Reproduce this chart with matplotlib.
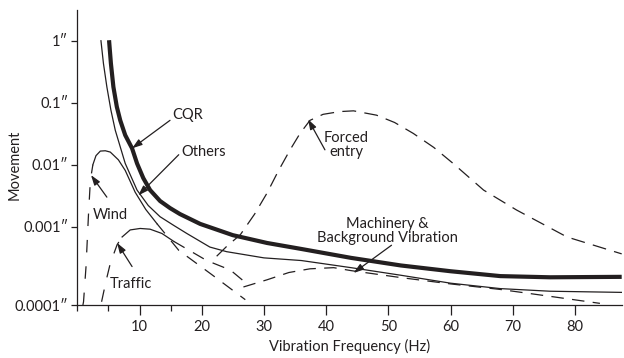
import numpy as np
import matplotlib
matplotlib.use('Agg')
from matplotlib import pyplot as plt

# --- data (frequency in Hz, movement in inches) ---
cqr_f = [5.1, 5.4, 5.8, 6.35, 6.9, 7.7, 8.8, 9.6, 10.6, 11.7, 13.3, 14.9, 16.5,
         19.75, 25, 30.5, 36, 44, 52, 60, 68, 76, 87.5]
cqr_m = [1.02, 0.43, 0.18, 0.086, 0.052, 0.030, 0.0184, 0.0105, 0.0061, 0.0039,
         0.0026, 0.0020, 0.0016, 0.00111, 0.00078, 0.00062, 0.00052, 0.00040,
         0.00032, 0.00027, 0.000234, 0.000226, 0.000229]

others_f = [3.8, 4.2, 4.75, 5.4, 6.1, 7.7, 9.6, 11.4, 13.3, 15.5, 17.6, 21.3,
            24, 30, 36, 44, 52, 60, 68, 76, 87.5]
others_m = [1.0, 0.43, 0.18, 0.076, 0.036, 0.0105, 0.0039, 0.0022, 0.00145,
            0.00105, 0.00082, 0.00055, 0.00048, 0.00040, 0.00037, 0.00030, 0.00024,
            0.00019, 0.000162, 0.000150, 0.000145]

wind_low_f = [0.9, 1.0, 1.4, 1.8, 2.1, 2.5]
wind_low_m = [0.0001, 0.00011, 0.00031, 0.0016, 0.0056, 0.010]
wind_f = [2.5, 3.0, 3.7, 4.5, 5.3, 6.6, 7.7, 9.3, 11.0, 12.8]
wind_m = [0.010, 0.014, 0.0166, 0.0168, 0.016, 0.012, 0.0081, 0.0036, 0.0019, 0.00112]
wind_tail_f = [12.8, 16.3, 21.6, 27]
wind_tail_m = [0.00112, 0.0005, 0.000245, 0.000117]

traffic_low_f = [3.9, 4.6, 5.3, 6.4, 7.2]
traffic_low_m = [0.00011, 0.0002, 0.00034, 0.00059, 0.00074]
traffic_f = [7.2, 8.5, 10.1, 11.7, 13.6, 15.5]
traffic_m = [0.00074, 0.00091, 0.00095, 0.00093, 0.00082, 0.00065]
traffic_tail_f = [15.5, 20.8, 24.6, 27.5]
traffic_tail_m = [0.00065, 0.00037, 0.00028, 0.00018]

mach_f = [26.7, 30.5, 34, 37.4, 41.2, 44, 52, 60, 68, 76, 84]
mach_m = [0.00017, 0.00021, 0.00026, 0.00029, 0.00030, 0.000275, 0.000224,
          0.000186, 0.000158, 0.000129, 0.000105]

forced_f = [22.4, 24, 26.2, 28.5, 30.5, 32.3, 34.2, 35.8, 37.4, 39.5, 42.2, 44.4,
            48.1, 51, 54, 57.3, 60.4, 65.3, 70.6, 78.7, 87.5]
forced_m = [0.00042, 0.00056, 0.00079, 0.0016, 0.0035, 0.0079, 0.0174, 0.032,
            0.052, 0.065, 0.072, 0.074, 0.063, 0.048, 0.032, 0.019, 0.0105,
            0.0039, 0.00186, 0.00074, 0.00045]

y_ticks = [1e-4, 1e-3, 1e-2, 1e-1, 1]
y_labels = ['0.0001\u2033', '0.001\u2033', '0.01\u2033', '0.1\u2033', '1\u2033']
x_ticks = [10, 20, 30, 40, 50, 60, 70, 80]

plt.rcParams['font.family'] = ['Lato', 'DejaVu Sans']
plt.rcParams['lines.scale_dashes'] = False

# log axis, last decade drawn a bit taller as in the original
k = 1.263
def fwd(y):
    L = np.log10(np.clip(y, 1e-12, None))
    return np.where(L < -3, -3 + (L + 3) * k, L)

def inv(t):
    t = np.asarray(t, dtype=float)
    return 10 ** np.where(t < -3, -3 + (t + 3) / k, t)

fig = plt.figure(figsize=(6.24, 3.58), dpi=100)
ax = fig.add_axes([0.1239, 0.148, 0.8724, 0.824])
ax.set_yscale('function', functions=(fwd, inv))

c = '#231f20'
ax.plot(cqr_f, cqr_m, color=c, lw=3.0, solid_capstyle='butt')
ax.plot(others_f, others_m, color=c, lw=0.9)
ax.plot(wind_low_f, wind_low_m, color=c, lw=0.9, dashes=(9, 10))
ax.plot(wind_f, wind_m, color=c, lw=0.9)
ax.plot(wind_tail_f, wind_tail_m, color=c, lw=0.9, dashes=(9, 7))
ax.plot(traffic_low_f, traffic_low_m, color=c, lw=0.9, dashes=(9, 9))
ax.plot(traffic_f, traffic_m, color=c, lw=0.9)
ax.plot(traffic_tail_f, traffic_tail_m, color=c, lw=0.9, dashes=(9, 7))
ax.plot(mach_f, mach_m, color=c, lw=0.9, dashes=(9, 6))
ax.plot(forced_f, forced_m, color=c, lw=0.9, dashes=(10, 6))

ax.set_xlim(0, 87.5)
ax.set_ylim(1e-4, 3.13)

ax.spines['top'].set_visible(False)
ax.spines['right'].set_visible(False)
for s in ('left', 'bottom'):
    ax.spines[s].set_linewidth(0.9)
    ax.spines[s].set_color(c)

ax.set_yticks(y_ticks)
ax.set_yticklabels(y_labels)
ax.yaxis.set_minor_locator(matplotlib.ticker.NullLocator())
ax.set_xticks(x_ticks)
ax.set_xticks([0, 5, 15], minor=True)
ax.tick_params(axis='x', which='major', length=7, width=0.9, color=c, labelsize=10.5, pad=4, labelcolor=c)
ax.tick_params(axis='x', which='minor', length=4, width=0.9, color=c)
ax.tick_params(axis='y', length=4.5, width=0.9, color=c, labelsize=10.5, pad=2, labelcolor=c)

ax.set_xlabel('Vibration Frequency (Hz)', fontsize=10.5, color=c, labelpad=3)
ax.set_ylabel('Movement', fontsize=10.5, color=c)
ax.yaxis.set_label_coords(-0.102, 0.475)

arrow = dict(arrowstyle='-|>,head_length=0.6,head_width=0.2', lw=0.9, color=c,
             shrinkA=0, shrinkB=0)
fs = 10.5
ax.annotate('', xy=(8.8, 0.0184), xytext=(14.9, 0.052), arrowprops=arrow)
ax.text(15.2, 0.063, 'CQR', fontsize=fs, color=c, va='center', ha='left')
ax.annotate('', xy=(9.8, 0.0032), xytext=(16.3, 0.0145), arrowprops=arrow)
ax.text(16.8, 0.016, 'Others', fontsize=fs, color=c, va='center', ha='left')
ax.annotate('', xy=(2.2, 0.0068), xytext=(4.75, 0.003), arrowprops=arrow)
ax.text(5.3, 0.00155, 'Wind', fontsize=fs, color=c, va='center', ha='center')
ax.annotate('', xy=(6.4, 0.00062), xytext=(8.8, 0.00031), arrowprops=arrow)
ax.text(8.66, 0.000187, 'Traffic', fontsize=fs, color=c, va='center', ha='center')
ax.annotate('', xy=(37.1, 0.054), xytext=(39.8, 0.0174), arrowprops=arrow)
ax.text(43.2, 0.021, 'Forced\nentry', fontsize=fs, color=c, va='center', ha='center',
        linespacing=1.0)
ax.annotate('', xy=(44.4, 0.000257), xytext=(50.5, 0.00058), arrowprops=arrow)
ax.text(49.9, 0.00088, 'Machinery &\nBackground Vibration', fontsize=fs, color=c,
        va='center', ha='center', linespacing=1.0)

plt.savefig('out.png', dpi=100)
